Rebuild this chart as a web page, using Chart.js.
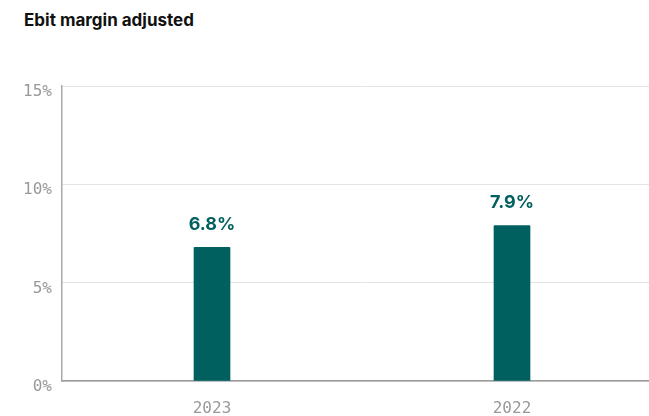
<!DOCTYPE html>
<html>
<head>
<meta charset="utf-8">
<script src="https://cdn.jsdelivr.net/npm/chart.js@4/dist/chart.umd.min.js"></script>
<style>
  html, body { margin: 0; padding: 0; background: #fff; overflow: hidden; }
  #wrap { position: relative; width: 649px; height: 416px; overflow: hidden; }
  #title {
    position: absolute; left: 24px; top: 10px;
    font: 700 17px Inter, "Noto Sans", sans-serif; color: #111;
  }
  canvas { position: absolute; left: 0; top: 0; }
</style>
</head>
<body>
<div id="wrap">
  <div id="title">Ebit margin adjusted</div>
  <canvas id="chart" width="662" height="416"></canvas>
</div>
<script>
var years = ["2023", "2022"];
var margin = [6.8, 7.9];
var yTicks = [0, 5, 10, 15];

var teal = "#005f5f";
var tickFont = { family: "'DejaVu Sans Mono', monospace", size: 16 };

// value labels above each bar
var barLabels = {
  id: "barLabels",
  afterDatasetsDraw: function (chart) {
    var ctx = chart.ctx;
    var meta = chart.getDatasetMeta(0);
    ctx.save();
    ctx.fillStyle = teal;
    ctx.font = "700 18px Inter, 'Noto Sans', sans-serif";
    ctx.textAlign = "center";
    ctx.textBaseline = "bottom";
    meta.data.forEach(function (bar, i) {
      ctx.fillText(margin[i].toFixed(1) + "%", bar.x, bar.y - 14);
    });
    ctx.restore();
  },
};

var ctx = document.getElementById("chart").getContext("2d");
var chart = new Chart(ctx, {
  type: "bar",
  data: {
    labels: years,
    datasets: [
      {
        data: margin,
        backgroundColor: teal,
        barThickness: 36,
        borderRadius: 1,
      },
    ],
  },
  options: {
    responsive: false,
    animation: false,
    layout: { padding: { top: 86, right: 0, left: 0, bottom: 0 } },
    plugins: {
      legend: { display: false },
      tooltip: { enabled: false },
    },
    scales: {
      x: {
        offset: true,
        grid: { display: false, drawTicks: false },
        border: { color: "#9a9a9a", width: 1.5 },
        ticks: {
          padding: 18,
          color: "#999",
          font: tickFont,
        },
        afterFit: function (scale) {
          scale.height = 35;
        },
      },
      y: {
        min: 0,
        max: 15,
        afterBuildTicks: function (scale) {
          scale.ticks = yTicks.map(function (v) { return { value: v }; });
        },
        grid: { color: "#e3e3e3", drawTicks: false },
        border: { color: "#aaa", width: 1.5 },
        ticks: {
          padding: 10,
          labelOffset: 6,
          color: "#999",
          font: tickFont,
          callback: function (v) { return v + "%"; },
        },
        afterFit: function (scale) {
          scale.width = 62;
        },
      },
    },
  },
  plugins: [barLabels],
});
</script>
</body>
</html>
